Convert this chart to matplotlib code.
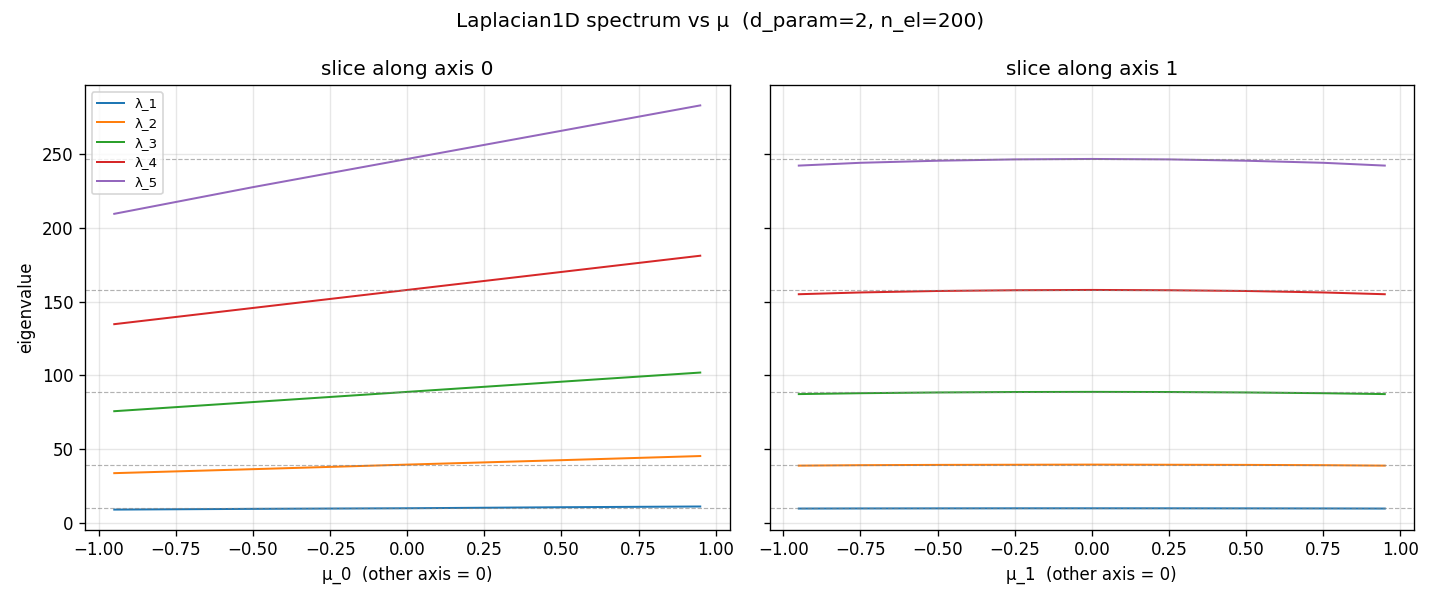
import numpy as np
import matplotlib
matplotlib.use("Agg")
import matplotlib.pyplot as plt

# mu sample points
mu_axis0 = [-0.95, -0.5, 0.0, 0.5, 0.95]
mu_axis1 = [-0.95, -0.75, -0.5, -0.25, 0.0, 0.25, 0.5, 0.75, 0.95]

# slice along axis 0 (roughly linear)
lam1_a0 = [9.0, 9.5, 9.9, 10.6, 11.1]
lam2_a0 = [33.7, 36.4, 39.5, 42.5, 45.3]
lam3_a0 = [75.7, 81.9, 88.8, 95.7, 101.9]
lam4_a0 = [134.7, 145.7, 157.9, 170.1, 181.1]
lam5_a0 = [209.5, 227.6, 246.7, 265.8, 283.0]

# slice along axis 1 (slight hump at 0)
lam1_a1 = [9.70, 9.77, 9.82, 9.86, 9.87, 9.86, 9.82, 9.77, 9.70]
lam2_a1 = [38.8, 39.1, 39.3, 39.4, 39.5, 39.4, 39.3, 39.1, 38.8]
lam3_a1 = [87.3, 87.9, 88.4, 88.7, 88.8, 88.7, 88.4, 87.9, 87.3]
lam4_a1 = [155.0, 156.2, 157.2, 157.7, 157.9, 157.7, 157.2, 156.2, 155.0]
lam5_a1 = [242.2, 244.1, 245.5, 246.4, 246.7, 246.4, 245.5, 244.1, 242.2]

# reference eigenvalues at mu = 0 (dashed lines)
ref_vals = [9.87, 39.48, 88.83, 157.91, 246.74]
labels = ["λ_1", "λ_2", "λ_3", "λ_4", "λ_5"]

series_a0 = [lam1_a0, lam2_a0, lam3_a0, lam4_a0, lam5_a0]
series_a1 = [lam1_a1, lam2_a1, lam3_a1, lam4_a1, lam5_a1]

fig, axes = plt.subplots(1, 2, figsize=(12, 5), dpi=120, sharey=True)

for ax, mu, series, axis in zip(axes, [mu_axis0, mu_axis1], [series_a0, series_a1], [0, 1]):
	for lab, vals in zip(labels, series):
		ax.plot(mu, vals, label=lab, lw=1.2)
	for r in ref_vals:
		ax.axhline(r, color="gray", ls="--", lw=0.7, alpha=0.6)
	ax.grid(alpha=0.3)
	ax.set_title(f"slice along axis {axis}")
	ax.set_xlabel(f"μ_{axis}  (other axis = 0)")

axes[0].set_ylabel("eigenvalue")
axes[0].legend(loc="upper left", fontsize=8)
fig.suptitle("Laplacian1D spectrum vs μ  (d_param=2, n_el=200)")
fig.subplots_adjust(left=0.059, right=0.982, top=0.858, bottom=0.117, wspace=0.062)
plt.savefig("out.png")
plt.close()
